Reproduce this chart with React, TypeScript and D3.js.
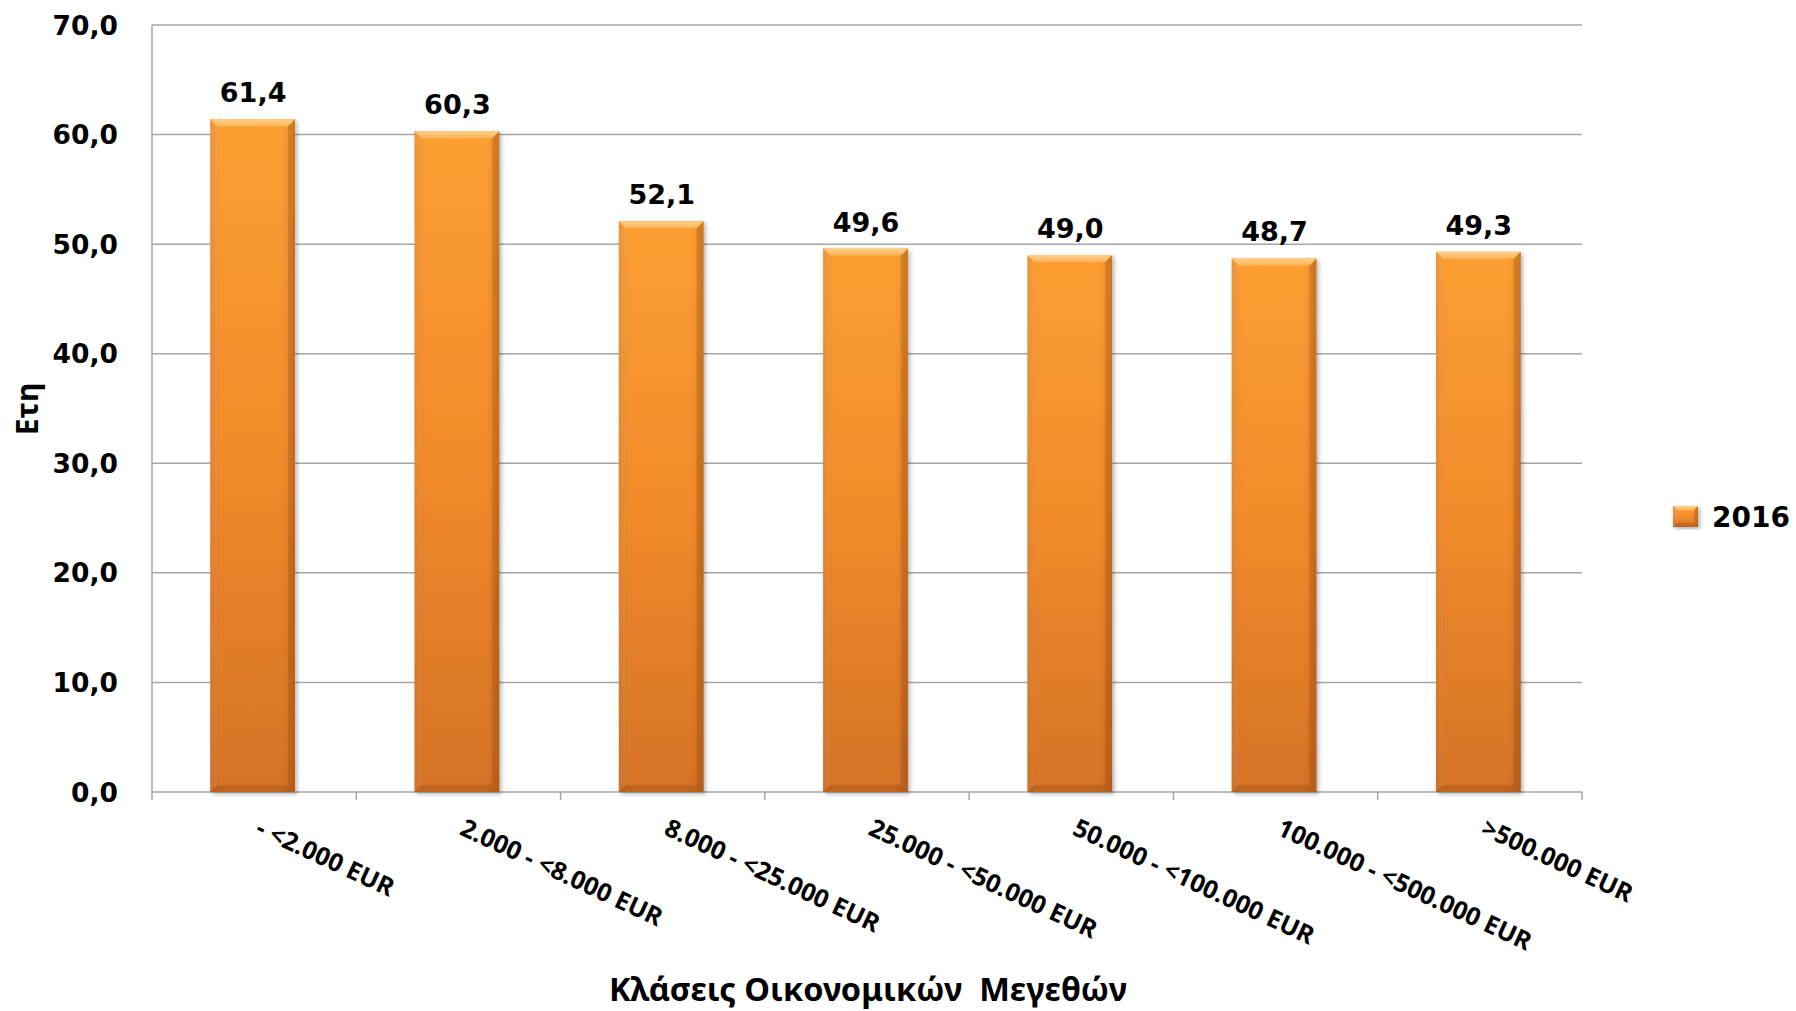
import React from "react";
import * as d3 from "d3";

const categories = [
  "- <2.000 EUR",
  "2.000 - <8.000 EUR",
  "8.000 - <25.000 EUR",
  "25.000 - <50.000 EUR",
  "50.000 - <100.000 EUR",
  "100.000 - <500.000 EUR",
  ">500.000 EUR",
];
const values2016 = [61.4, 60.3, 52.1, 49.6, 49.0, 48.7, 49.3];
const yTicks = [0, 10, 20, 30, 40, 50, 60, 70];
const seriesName = "2016";
const yTitle = "Ετη";
const xTitle = "Κλάσεις Οικονομικών  Μεγεθών";

const W = 1796;
const H = 1011;
const left = 152;
const right = 1582;
const top = 25;
const bottom = 792;

const numFont = "'DejaVu Sans', Verdana, sans-serif";
const txtFont = "'Noto Sans', 'Open Sans', sans-serif";

const fmt = (v: number) => v.toFixed(1).replace(".", ",");

function Bar({ x, y, w, h }: { x: number; y: number; w: number; h: number }) {
  const b = Math.min(7, w / 6, h / 2);
  return (
    <g>
      <rect x={x} y={y} width={w} height={h} fill="url(#barV)" filter="url(#shadow)" />
      <rect x={x} y={y} width={w} height={h} fill="url(#barH)" />
      <polygon
        points={`${x},${y} ${x + w},${y} ${x + w - b},${y + b} ${x + b},${y + b}`}
        fill="url(#bevelTop)"
      />
      <polygon
        points={`${x},${y} ${x + b},${y + b} ${x + b},${y + h - b} ${x},${y + h}`}
        fill="#ffffff"
        opacity={0.06}
      />
      <polygon
        points={`${x + w},${y} ${x + w},${y + h} ${x + w - b},${y + h - b} ${x + w - b},${y + b}`}
        fill="#7a3a08"
        opacity={0.22}
      />
      <polygon
        points={`${x},${y + h} ${x + w},${y + h} ${x + w - b},${y + h - b} ${x + b},${y + h - b}`}
        fill="#7a3a08"
        opacity={0.25}
      />
    </g>
  );
}

export default function App() {
  const x = d3.scaleBand<string>().domain(categories).range([left, right]).padding(0);
  const y = d3.scaleLinear().domain([0, 70]).range([bottom, top]);
  const bw = x.bandwidth() * 0.415;
  const boundaries = d3.range(categories.length + 1).map((i) => left + i * x.bandwidth());

  return (
    <svg
      width={W}
      height={H}
      viewBox={`0 0 ${W} ${H}`}
      style={{ position: "absolute", left: 0, top: 0, background: "#fff" }}
    >
      <defs>
        <linearGradient id="barV" x1="0" y1="0" x2="0" y2="1">
          <stop offset="0" stopColor="#FD9F33" />
          <stop offset="0.5" stopColor="#F28B2B" />
          <stop offset="1" stopColor="#D67226" />
        </linearGradient>
        <linearGradient id="barH" x1="0" y1="0" x2="1" y2="0">
          <stop offset="0" stopColor="#8a4210" stopOpacity="0.18" />
          <stop offset="0.12" stopColor="#8a4210" stopOpacity="0" />
          <stop offset="0.85" stopColor="#8a4210" stopOpacity="0" />
          <stop offset="1" stopColor="#8a4210" stopOpacity="0.25" />
        </linearGradient>
        <linearGradient id="bevelTop" x1="0" y1="0" x2="0" y2="1">
          <stop offset="0" stopColor="#FFD08A" />
          <stop offset="1" stopColor="#FDB45A" />
        </linearGradient>
        <filter id="shadow" x="-20%" y="-5%" width="140%" height="115%">
          <feDropShadow dx="2" dy="2" stdDeviation="2" floodColor="#000" floodOpacity="0.3" />
        </filter>
      </defs>

      {yTicks.map((t) => (
        <line
          key={t}
          x1={left}
          x2={right}
          y1={y(t)}
          y2={y(t)}
          stroke="#A6A6A6"
          strokeWidth={1.5}
        />
      ))}
      <line x1={left} x2={left} y1={top} y2={bottom} stroke="#A6A6A6" strokeWidth={1.5} />
      {boundaries.map((bx, i) => (
        <line key={i} x1={bx} x2={bx} y1={bottom} y2={bottom + 8} stroke="#A6A6A6" strokeWidth={1.5} />
      ))}

      {categories.map((c, i) => {
        const cx = (x(c) as number) + x.bandwidth() / 2;
        const v = values2016[i];
        return (
          <g key={c}>
            <Bar x={cx - bw / 2 - 1.5} y={y(v)} w={bw} h={bottom - y(v)} />
            <text
              x={cx - 1}
              y={y(v) - 17}
              textAnchor="middle"
              fontFamily={numFont}
              fontWeight="bold"
              fontSize={27}
              fill="#000"
            >
              {fmt(v)}
            </text>
          </g>
        );
      })}

      {yTicks.map((t) => (
        <text
          key={t}
          x={118}
          y={y(t)}
          dy="0.36em"
          textAnchor="end"
          fontFamily={numFont}
          fontWeight="bold"
          fontSize={26.5}
          fill="#000"
        >
          {fmt(t)}
        </text>
      ))}

      {categories.map((c) => {
        const cx = (x(c) as number) + x.bandwidth() / 2;
        return (
          <text
            key={c}
            transform={`translate(${cx},${834}) rotate(25)`}
            textAnchor="start"
            fontFamily={txtFont}
            fontWeight="bold"
            fontSize={25}
            fill="#000"
          >
            {c}
          </text>
        );
      })}

      <text
        x={(left + right) / 2 + 1}
        y={1001}
        textAnchor="middle"
        fontFamily={txtFont}
        fontWeight="bold"
        fontSize={32.5}
        fill="#000"
        style={{ whiteSpace: "pre" }}
      >
        {xTitle}
      </text>
      <text
        transform={`translate(38,409) rotate(-90)`}
        textAnchor="middle"
        fontFamily={txtFont}
        fontWeight="bold"
        fontSize={30}
        fill="#000"
      >
        {yTitle}
      </text>

      <g>
        <Bar x={1673} y={506} w={25} h={21} />
        <text
          x={1712}
          y={527}
          fontFamily={numFont}
          fontWeight="bold"
          fontSize={28}
          fill="#000"
        >
          {seriesName}
        </text>
      </g>
    </svg>
  );
}
